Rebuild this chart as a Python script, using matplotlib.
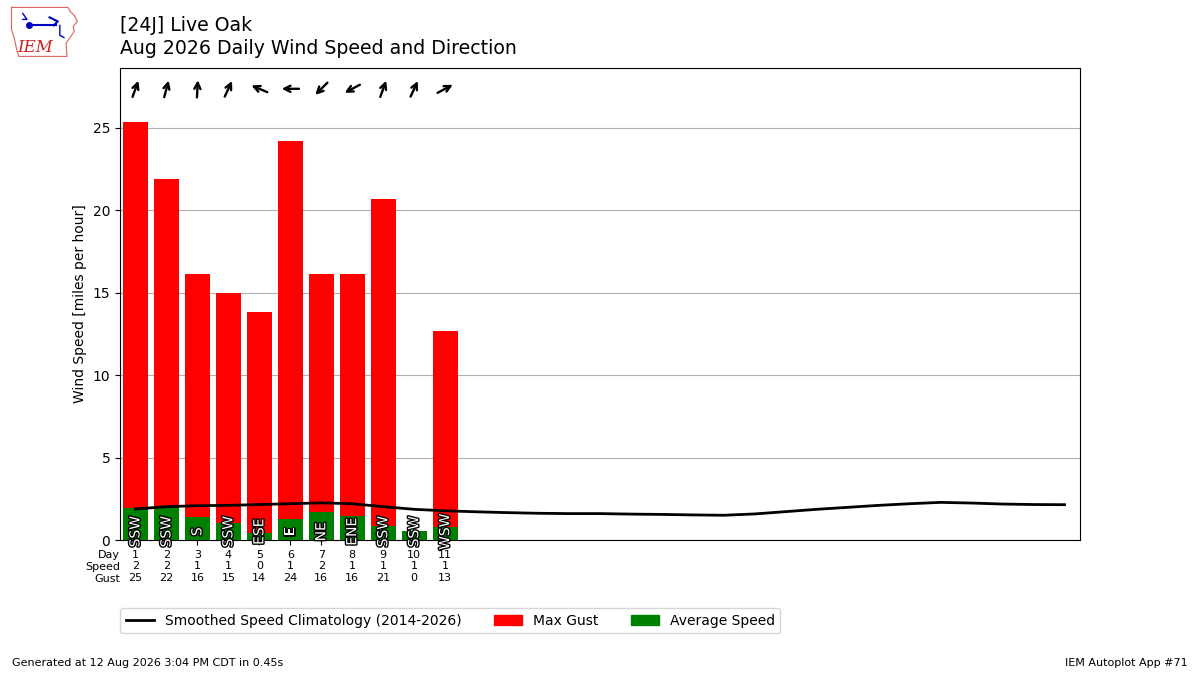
import numpy as np
import matplotlib
matplotlib.use("Agg")
import matplotlib.pyplot as plt
import matplotlib.transforms as mtransforms
from matplotlib.patches import Patch
from matplotlib.lines import Line2D
import matplotlib.patheffects as PathEffects

# Daily observations for Aug 2026 (days 1-11)
days = [1, 2, 3, 4, 5, 6, 7, 8, 9, 10, 11]
avg_speed = [1.95, 1.98, 1.39, 1.03, 0.40, 1.25, 1.71, 1.47, 0.87, 0.55, 0.77]
max_gust = [25.36, 21.91, 16.10, 14.98, 13.80, 24.20, 16.10, 16.10, 20.70, 0.0, 12.65]
dir_deg = [200, 195, 183, 205, 113, 90, 45, 62, 200, 205, 242]
dir_txt = ["SSW", "SSW", "S", "SSW", "ESE", "E", "NE", "ENE", "SSW", "SSW", "WSW"]

# Smoothed climatology for every day of the month
climo_days = list(range(1, 32))
climo = [1.88, 2.02, 2.08, 2.10, 2.15, 2.20, 2.25, 2.20, 2.02, 1.86,
         1.77, 1.71, 1.66, 1.62, 1.60, 1.60, 1.57, 1.55, 1.52, 1.50,
         1.58, 1.72, 1.86, 1.98, 2.10, 2.20, 2.28, 2.24, 2.18, 2.15, 2.14]

fig = plt.figure(figsize=(12, 6.75), dpi=100)
ax = fig.add_axes([0.1, 0.2, 0.8, 0.699])

ax.bar(days, max_gust, width=0.8, color="red", zorder=2)
ax.bar(days, avg_speed, width=0.8, color="green", zorder=3)
ax.plot(climo_days, climo, color="k", lw=2, zorder=4)

# direction labels inside the bars
for d, t in zip(days, dir_txt):
    ax.text(d, 0.5, t, rotation=90, ha="center", va="center", color="white",
            fontsize=10, zorder=5,
            path_effects=[PathEffects.withStroke(linewidth=2, foreground="k")])

# direction arrows (pointing where the wind blows to)
for d, deg in zip(days, dir_deg):
    to = np.radians(deg + 180)
    dx = 6.2 * np.sin(to)
    dy = 6.2 * np.cos(to)
    head = mtransforms.offset_copy(ax.transData, fig=fig, x=dx, y=dy,
                                   units="points")
    tail = mtransforms.offset_copy(ax.transData, fig=fig, x=-dx, y=-dy,
                                   units="points")
    ax.annotate("", xy=(d, 27.35), xycoords=head,
                xytext=(d, 27.35), textcoords=tail,
                arrowprops=dict(arrowstyle="->", lw=1.7, color="k",
                                shrinkA=0, shrinkB=0,
                                mutation_scale=11),
                annotation_clip=False)

ax.set_xlim(0.5, 31.5)
ax.set_ylim(0, 28.6)
ax.set_yticks([0, 5, 10, 15, 20, 25])
ax.grid(True, axis="y")
ax.set_axisbelow(True)
ax.set_ylabel("Wind Speed [miles per hour]")

ax.set_xticks(days)
ax.set_xticklabels(["%d\n%d\n%d" % (d, round(s), round(g))
                    for d, s, g in zip(days, avg_speed, max_gust)], fontsize=8)
trans = mtransforms.offset_copy(ax.get_xaxis_transform(), fig=fig,
                                x=0, y=-7.5, units="points")
ax.text(0.5, 0, "Day\nSpeed\nGust", transform=trans, ha="right", va="top",
        fontsize=8)

handles = [Line2D([], [], color="k", lw=2),
           Patch(color="red"), Patch(color="green")]
labels = ["Smoothed Speed Climatology (2014-2026)", "Max Gust", "Average Speed"]
ax.legend(handles, labels, ncol=3, loc="upper left", columnspacing=2.35,
          bbox_to_anchor=(-0.007, -0.13), fontsize=10)

fig.text(0.1, 0.977, "[24J] Live Oak\nAug 2026 Daily Wind Speed and Direction",
         ha="left", va="top", fontsize=13.6, linespacing=1.3)
fig.text(0.01, 0.01, "Generated at 12 Aug 2026 3:04 PM CDT in 0.45s",
         fontsize=8, va="bottom")
fig.text(0.99, 0.01, "IEM Autoplot App #71", fontsize=8, ha="right",
         va="bottom")

# rough IEM logo
lax = fig.add_axes([0.007, 0.912, 0.06, 0.08])
lax.set_xlim(0, 70)
lax.set_ylim(0, 54)
lax.axis("off")
ox = [3, 58, 60, 64, 67, 63, 64, 60, 56, 57, 10, 8, 6, 3, 3]
oy = [52, 52, 48, 44, 38, 33, 28, 22, 16, 3, 3, 10, 20, 30, 52]
lax.plot(ox, oy, color="#e06060", lw=0.8)
lax.plot([20, 46], [34, 34], color="#0000c0", lw=1.5)
lax.plot([20], [34], "o", color="#0000c0", ms=4)
lax.plot([14, 18, 14], [46, 40, 40], color="#0000c0", lw=1)
lax.plot([40, 48, 44], [42, 38, 34], color="#0000c0", lw=1.5)
lax.plot([50, 50, 54], [34, 24, 22], color="#0000c0", lw=1)
lax.text(26, 12, "IEM", color="#d02020", fontsize=12, style="italic",
         family="DejaVu Serif", ha="center", va="center")

fig.savefig("out.png", dpi=100)
